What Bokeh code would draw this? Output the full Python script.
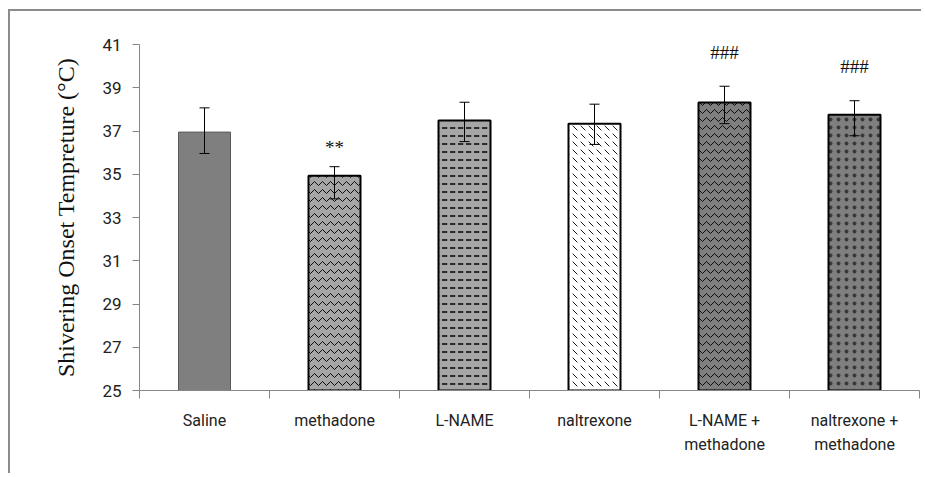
from bokeh.plotting import figure
from bokeh.models import ColumnDataSource, Whisker, FixedTicker, Range1d, TeeHead, LinearAxis
from bokeh.core.properties import value
from bokeh.embed import file_html
from bokeh.resources import INLINE

# ---- data ----
categories = ["Saline", "methadone", "L-NAME", "naltrexone", "L-NAME +\nmethadone", "naltrexone +\nmethadone"]
means = [36.95, 34.93, 37.49, 37.34, 38.32, 37.75]
err_upper = [38.07, 35.35, 38.33, 38.24, 39.07, 38.40]
err_lower = [35.96, 33.86, 36.51, 36.38, 37.34, 36.78]
sig_labels = ["", "**", "", "", "###", "###"]
sig_y = [0, 36.22, 0, 0, 40.64, 39.98]
y_ticks = [25, 27, 29, 31, 33, 35, 37, 39, 41]

# ---- styles ----
fills = ["#7f7f7f", "#a6a6a6", "#a6a6a6", "#ffffff", "#7f7f7f", "#7f7f7f"]
hatches = [" ", "horizontal_wave", "horizontal_dash", "left_diagonal_dash", "horizontal_wave", "dot"]
hatch_scales = [8, 8, 8, 8, 8, 8]
hatch_weights = [1, 1, 1.6, 1, 1, 0.3]
hatch_alphas = [0.9, 0.9, 0.9, 0.9, 0.9, 0.55]
outlines = ["#5a5a5a", "black", "black", "black", "black", "black"]
outline_w = [1, 2, 2, 2, 2, 2]

xs = [i + 0.5 for i in range(len(categories))]

src = ColumnDataSource(dict(x=xs, top=means, upper=err_upper, lower=err_lower,
                            fill=fills, hatch=hatches, hs=hatch_scales, hw=hatch_weights,
                            ha=hatch_alphas, line=outlines, lw=outline_w))

p = figure(width=913, height=464, output_backend="svg", toolbar_location=None,
           x_range=Range1d(0, len(categories)), y_range=Range1d(25, 41),
           min_border_left=129, min_border_right=4, min_border_top=33, min_border_bottom=85)
p.styles = {"border-left": "2px solid #8c8c8c", "border-top": "2px solid #8c8c8c",
            "margin-left": "8px", "margin-top": "9px"}
p.outline_line_color = None
p.xgrid.visible = False
p.ygrid.visible = False
p.xaxis.visible = False
p.yaxis.visible = False

p.vbar(x="x", top="top", bottom=25, width=0.4, source=src,
       fill_color="fill", line_color="line", line_width="lw",
       hatch_pattern="hatch", hatch_color="black", hatch_scale="hs", hatch_weight="hw",
       hatch_alpha="ha")

wh = Whisker(base="x", upper="upper", lower="lower", source=src, level="overlay",
             line_color="black", line_width=1,
             upper_head=TeeHead(size=10, line_color="black", line_width=1),
             lower_head=TeeHead(size=10, line_color="black", line_width=1))
p.add_layout(wh)

sig_src = ColumnDataSource(dict(x=[xs[i] for i in range(len(xs)) if sig_labels[i]],
                                y=[sig_y[i] for i in range(len(xs)) if sig_labels[i]],
                                t=[s for s in sig_labels if s]))
p.text(x="x", y="y", text="t", source=sig_src, text_align="center", text_baseline="middle",
       text_font=value("Liberation Serif"), text_font_size="19px", text_color="#111111")

# y axis
ya = LinearAxis(ticker=FixedTicker(ticks=y_ticks, minor_ticks=[]))
ya.axis_line_color = "#868686"
ya.major_tick_line_color = "#868686"
ya.major_tick_out = 7
ya.major_tick_in = 0
ya.minor_tick_line_color = None
ya.major_label_text_font = "Roboto"
ya.major_label_text_font_size = "17px"
ya.major_label_text_color = "#222222"
ya.major_label_standoff = 11
ya.axis_label = "Shivering Onset Tempreture (°C)"
ya.axis_label_text_font = "Liberation Serif"
ya.axis_label_text_font_style = "normal"
ya.axis_label_text_font_size = "24px"
ya.axis_label_text_color = "#111111"
ya.axis_label_standoff = 20
p.add_layout(ya, "left")

# x axis: labels at centers, boundary ticks as minor ticks
xa = LinearAxis(ticker=FixedTicker(ticks=xs, minor_ticks=list(range(len(categories) + 1))))
xa.major_label_overrides = {x: c for x, c in zip(xs, categories)}
xa.axis_line_color = "#868686"
xa.major_tick_line_color = None
xa.major_tick_out = 0
xa.major_tick_in = 0
xa.minor_tick_line_color = "#868686"
xa.minor_tick_out = 8
xa.minor_tick_in = 0
xa.major_label_text_font = "Roboto"
xa.major_label_text_font_size = "16px"
xa.major_label_text_color = "#222222"
xa.major_label_text_line_height = 1.3
xa.major_label_standoff = 12
p.add_layout(xa, "below")

open("out.html", "w").write(file_html(p, INLINE))
